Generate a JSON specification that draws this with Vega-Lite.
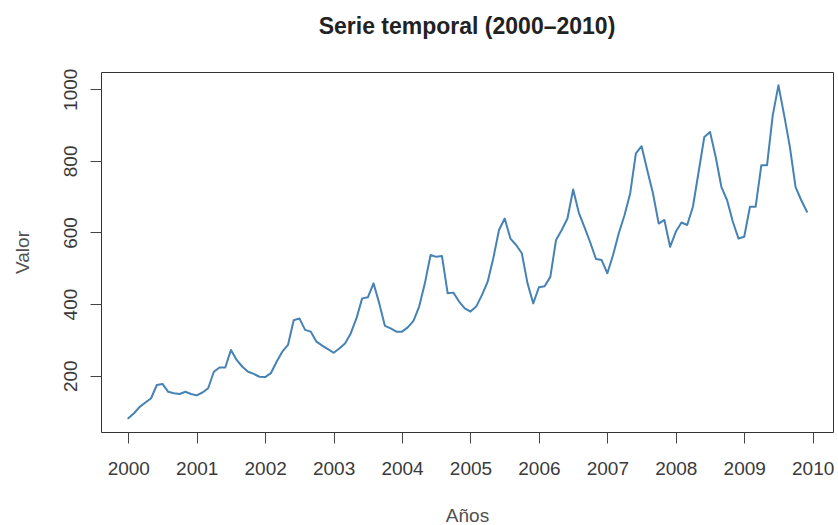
{
  "$schema": "https://vega.github.io/schema/vega-lite/v6.json",
  "width": 732,
  "height": 360,
  "autosize": {"type": "none"},
  "padding": {"left": 101, "top": 72, "right": 5, "bottom": 93},
  "background": "white",
  "title": {
    "text": "Serie temporal (2000–2010)",
    "font": "Liberation Sans",
    "fontSize": 23,
    "fontWeight": "bold",
    "color": "#222222",
    "anchor": "middle",
    "baseline": "alphabetic",
    "offset": 11
  },
  "data": {
    "values": [
      {"t": 2000.0000, "v": 81}, {"t": 2000.0833, "v": 95}, {"t": 2000.1667, "v": 113}, {"t": 2000.2500, "v": 125},
      {"t": 2000.3333, "v": 137}, {"t": 2000.4167, "v": 174}, {"t": 2000.5000, "v": 177}, {"t": 2000.5833, "v": 155},
      {"t": 2000.6667, "v": 151}, {"t": 2000.7500, "v": 149}, {"t": 2000.8333, "v": 155}, {"t": 2000.9167, "v": 149},
      {"t": 2001.0000, "v": 145}, {"t": 2001.0833, "v": 153}, {"t": 2001.1667, "v": 165}, {"t": 2001.2500, "v": 211},
      {"t": 2001.3333, "v": 223}, {"t": 2001.4167, "v": 223}, {"t": 2001.5000, "v": 272}, {"t": 2001.5833, "v": 244},
      {"t": 2001.6667, "v": 225}, {"t": 2001.7500, "v": 211}, {"t": 2001.8333, "v": 205}, {"t": 2001.9167, "v": 197},
      {"t": 2002.0000, "v": 196}, {"t": 2002.0833, "v": 207}, {"t": 2002.1667, "v": 239}, {"t": 2002.2500, "v": 267},
      {"t": 2002.3333, "v": 286}, {"t": 2002.4167, "v": 355}, {"t": 2002.5000, "v": 360}, {"t": 2002.5833, "v": 328},
      {"t": 2002.6667, "v": 323}, {"t": 2002.7500, "v": 295}, {"t": 2002.8333, "v": 284}, {"t": 2002.9167, "v": 274},
      {"t": 2003.0000, "v": 264}, {"t": 2003.0833, "v": 276}, {"t": 2003.1667, "v": 290}, {"t": 2003.2500, "v": 318},
      {"t": 2003.3333, "v": 360}, {"t": 2003.4167, "v": 416}, {"t": 2003.5000, "v": 419}, {"t": 2003.5833, "v": 458},
      {"t": 2003.6667, "v": 402}, {"t": 2003.7500, "v": 339}, {"t": 2003.8333, "v": 332}, {"t": 2003.9167, "v": 323},
      {"t": 2004.0000, "v": 323}, {"t": 2004.0833, "v": 335}, {"t": 2004.1667, "v": 353}, {"t": 2004.2500, "v": 393},
      {"t": 2004.3333, "v": 458}, {"t": 2004.4167, "v": 537}, {"t": 2004.5000, "v": 532}, {"t": 2004.5833, "v": 534},
      {"t": 2004.6667, "v": 430}, {"t": 2004.7500, "v": 432}, {"t": 2004.8333, "v": 407}, {"t": 2004.9167, "v": 388},
      {"t": 2005.0000, "v": 379}, {"t": 2005.0833, "v": 393}, {"t": 2005.1667, "v": 425}, {"t": 2005.2500, "v": 462},
      {"t": 2005.3333, "v": 528}, {"t": 2005.4167, "v": 607}, {"t": 2005.5000, "v": 639}, {"t": 2005.5833, "v": 583},
      {"t": 2005.6667, "v": 565}, {"t": 2005.7500, "v": 542}, {"t": 2005.8333, "v": 458}, {"t": 2005.9167, "v": 402},
      {"t": 2006.0000, "v": 447}, {"t": 2006.0833, "v": 450}, {"t": 2006.1667, "v": 476}, {"t": 2006.2500, "v": 579},
      {"t": 2006.3333, "v": 607}, {"t": 2006.4167, "v": 639}, {"t": 2006.5000, "v": 720}, {"t": 2006.5833, "v": 655},
      {"t": 2006.6667, "v": 614}, {"t": 2006.7500, "v": 572}, {"t": 2006.8333, "v": 526}, {"t": 2006.9167, "v": 523},
      {"t": 2007.0000, "v": 486}, {"t": 2007.0833, "v": 537}, {"t": 2007.1667, "v": 598}, {"t": 2007.2500, "v": 648},
      {"t": 2007.3333, "v": 709}, {"t": 2007.4167, "v": 821}, {"t": 2007.5000, "v": 841}, {"t": 2007.5833, "v": 774},
      {"t": 2007.6667, "v": 709}, {"t": 2007.7500, "v": 625}, {"t": 2007.8333, "v": 635}, {"t": 2007.9167, "v": 560},
      {"t": 2008.0000, "v": 602}, {"t": 2008.0833, "v": 628}, {"t": 2008.1667, "v": 621}, {"t": 2008.2500, "v": 672},
      {"t": 2008.3333, "v": 769}, {"t": 2008.4167, "v": 867}, {"t": 2008.5000, "v": 881}, {"t": 2008.5833, "v": 811},
      {"t": 2008.6667, "v": 727}, {"t": 2008.7500, "v": 690}, {"t": 2008.8333, "v": 630}, {"t": 2008.9167, "v": 583},
      {"t": 2009.0000, "v": 588}, {"t": 2009.0833, "v": 672}, {"t": 2009.1667, "v": 672}, {"t": 2009.2500, "v": 788},
      {"t": 2009.3333, "v": 788}, {"t": 2009.4167, "v": 928}, {"t": 2009.5000, "v": 1011}, {"t": 2009.5833, "v": 928},
      {"t": 2009.6667, "v": 839}, {"t": 2009.7500, "v": 727}, {"t": 2009.8333, "v": 690}, {"t": 2009.9167, "v": 658}
    ]
  },
  "mark": {"type": "line", "color": "#4682B4", "strokeWidth": 2, "strokeJoin": "round", "strokeCap": "round"},
  "encoding": {
    "x": {
      "field": "t",
      "type": "quantitative",
      "scale": {"domain": [1999.601, 2010.297], "nice": false, "zero": false},
      "axis": {
        "title": "Años",
        "values": [2000, 2001, 2002, 2003, 2004, 2005, 2006, 2007, 2008, 2009, 2010],
        "format": "d",
        "labelFontSize": 19,
        "labelPadding": 16,
        "tickSize": 11,
        "titleFontSize": 19,
        "titleX": 366,
        "titleY": 89.5,
        "titleBaseline": "alphabetic",
        "titleAlign": "center"
      }
    },
    "y": {
      "field": "v",
      "type": "quantitative",
      "scale": {"domain": [42.7, 1048.3], "nice": false, "zero": false},
      "axis": {
        "title": "Valor",
        "values": [200, 400, 600, 800, 1000],
        "format": "d",
        "labelAngle": -90,
        "labelAlign": "center",
        "labelBaseline": "alphabetic",
        "labelFontSize": 19,
        "labelPadding": 14,
        "tickSize": 11,
        "titleFontSize": 19,
        "titleAngle": -90,
        "titleX": -73,
        "titleY": 180,
        "titleBaseline": "alphabetic",
        "titleAlign": "center"
      }
    }
  },
  "config": {
    "view": {"stroke": "#333333", "strokeWidth": 1},
    "axis": {
      "grid": false,
      "domain": false,
      "labelFont": "Liberation Sans",
      "titleFont": "Liberation Sans",
      "labelColor": "#3a3a3a",
      "titleColor": "#505050",
      "titleFontWeight": "normal",
      "tickColor": "#444444",
      "tickWidth": 1,
      "labelOverlap": false,
      "labelFlush": false
    }
  }
}
